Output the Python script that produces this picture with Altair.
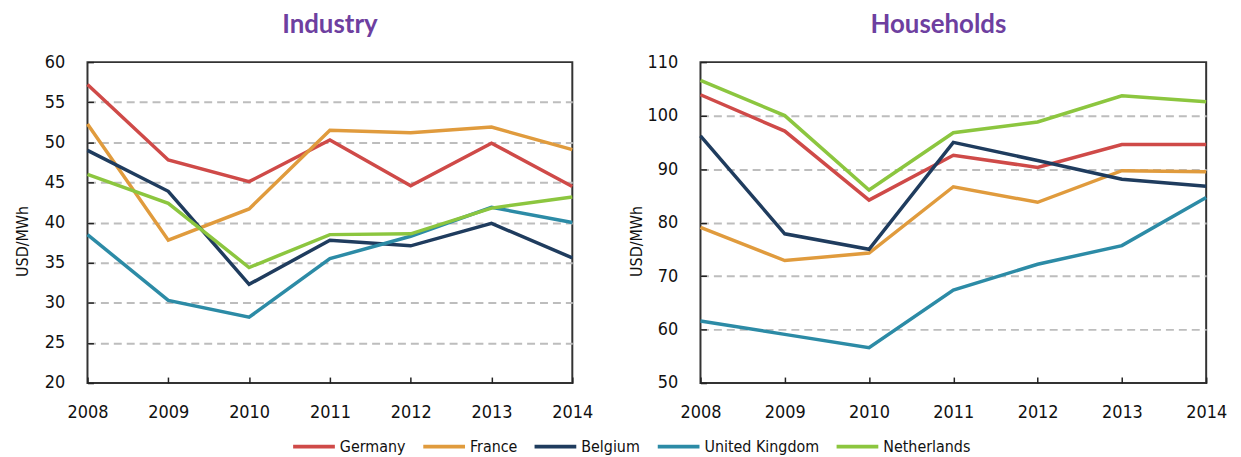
import altair as alt
import pandas as pd

years = [2008, 2009, 2010, 2011, 2012, 2013, 2014]
countries = ["Germany", "France", "Belgium", "United Kingdom", "Netherlands"]
colors = ["#CF4A48", "#E09B3D", "#1F3C5E", "#2C8BA6", "#8CC63F"]

# Industry prices (USD/MWh)
ind_germany = [57.2, 47.8, 45.1, 50.3, 44.6, 49.9, 44.5]
ind_france = [52.3, 37.8, 41.7, 51.5, 51.2, 51.9, 49.1]
ind_belgium = [49.0, 43.9, 32.3, 37.8, 37.1, 39.9, 35.6]
ind_uk = [38.5, 30.3, 28.2, 35.5, 38.3, 41.9, 40.0]
ind_netherlands = [46.0, 42.4, 34.4, 38.5, 38.6, 41.8, 43.2]

# Household prices (USD/MWh)
hh_germany = [103.9, 97.1, 84.2, 92.6, 90.3, 94.6, 94.6]
hh_france = [79.1, 72.9, 74.3, 86.7, 83.8, 89.7, 89.5]
hh_belgium = [96.2, 77.9, 75.0, 95.0, 91.6, 88.1, 86.8]
hh_uk = [61.6, 59.1, 56.6, 67.4, 72.2, 75.7, 84.7]
hh_netherlands = [106.6, 100.0, 86.1, 96.8, 98.8, 103.7, 102.6]

ind_ticks = [20, 25, 30, 35, 40, 45, 50, 55, 60]
hh_ticks = [50, 60, 70, 80, 90, 100, 110]

AXFONT = "Liberation Sans Narrow, DejaVu Sans Condensed, sans-serif"
TFONT = "Lato, Open Sans, sans-serif"


def long_df(series):
    rows = []
    for c, vals in zip(countries, series):
        for y, v in zip(years, vals):
            rows.append({"year": y, "country": c, "value": v})
    return pd.DataFrame(rows)


ind_df = long_df([ind_germany, ind_france, ind_belgium, ind_uk, ind_netherlands])
hh_df = long_df([hh_germany, hh_france, hh_belgium, hh_uk, hh_netherlands])

color_scale = alt.Scale(domain=countries, range=colors)
legend = alt.Legend(
    orient="none", legendX=205, legendY=364, direction="horizontal", title=None,
    symbolType="stroke", symbolSize=1764, symbolStrokeWidth=4,
    labelFont=AXFONT, labelFontSize=16, labelColor="#111", labelOffset=3,
    columnPadding=9, padding=0,
)


def panel(df, title, ticks, w, tdx, tpad):
    lo, hi = ticks[0], ticks[-1]
    return alt.Chart(df, title=alt.TitleParams(
        title, font=TFONT, fontSize=26, fontWeight="bold", color="#6E3FA0",
        anchor="middle", frame="group", offset=15, dx=tdx,
    )).mark_line(strokeWidth=3.5).encode(
        x=alt.X("year:Q", scale=alt.Scale(domain=[2008, 2014], nice=False, zero=False),
                axis=alt.Axis(values=years, format="d", title=None, grid=False,
                              domain=False, offset=-6, tickSize=6, tickWidth=1.5,
                              tickColor="#222", labelPadding=21, labelFont=AXFONT,
                              labelFontSize=18, labelColor="#111",
                              labelFlush=False)),
        y=alt.Y("value:Q", scale=alt.Scale(domain=[lo, hi], nice=False, zero=False),
                axis=alt.Axis(values=ticks, title="USD/MWh", domain=False, offset=-6,
                              tickSize=6, tickWidth=1.5, tickColor="#222",
                              labelPadding=23, labelFont=AXFONT, labelFontSize=18,
                              labelColor="#111", titleFont=AXFONT, titleFontSize=16,
                              titleFontWeight="normal", titleColor="#111",
                              titlePadding=tpad, titleY=180,
                              grid=True, gridColor="#BDBDBD", gridWidth=2,
                              gridDash=[8, 5],
                              gridOpacity=alt.condition(
                                  f"datum.value == {lo} || datum.value == {hi}",
                                  alt.value(0), alt.value(1)))),
        color=alt.Color("country:N", scale=color_scale, sort=countries, legend=legend),
    ).properties(width=w, height=323)


left = panel(ind_df, "Industry", ind_ticks, 488, 0, 14)
right = panel(hh_df, "Households", hh_ticks, 509, -15, 2)

chart = alt.hconcat(left, right, spacing=129, bounds="flush").properties(
    padding={"left": 5, "top": 2, "right": 5, "bottom": 5}
).configure_view(stroke="#333", strokeWidth=2)

chart.save("out.html", embed_options={"renderer": "svg", "actions": False})
